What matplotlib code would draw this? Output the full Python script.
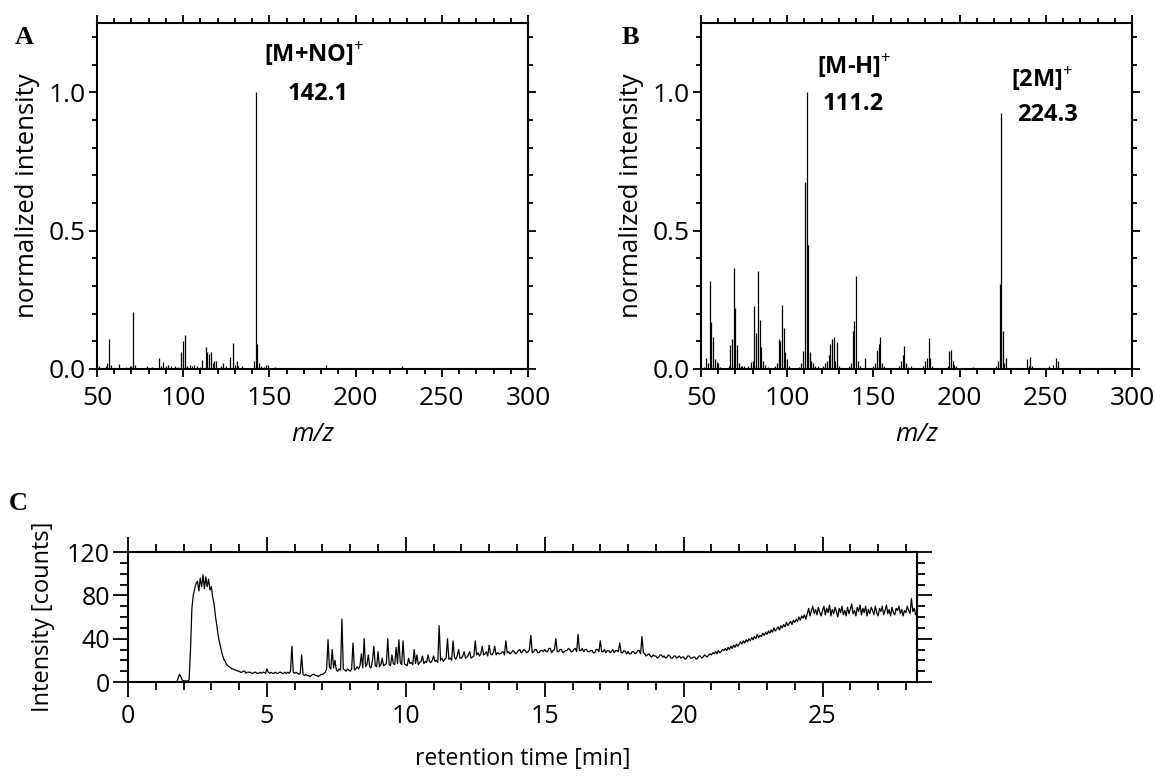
"""
plot.py - mass spectra (A, B) and chromatogram (C), redrawn as one figure.
"""

import numpy as np
import matplotlib
matplotlib.use("Agg")
import matplotlib.pyplot as plt
from matplotlib.ticker import MultipleLocator, FormatStrFormatter


# Data

# Panel A: stick spectrum, m/z and normalized intensity
mz_a = [51, 55, 56, 57, 58, 63, 67, 69, 70, 71,
        72, 79, 82, 86, 87, 88, 90, 91, 93, 95,
        97, 99, 100, 101, 102, 104, 105, 106, 108, 110,
        111, 113, 114, 115, 116, 117, 118, 119, 122, 123,
        125, 127, 129, 130, 131, 132, 134, 141, 142.1, 143,
        144, 145, 147, 148, 149, 153, 157, 183, 227]
int_a = [0.012, 0.010, 0.020, 0.108, 0.015, 0.018, 0.008, 0.012, 0.010, 0.206,
         0.015, 0.012, 0.006, 0.038, 0.010, 0.025, 0.010, 0.015, 0.012, 0.010,
         0.008, 0.062, 0.100, 0.122, 0.012, 0.015, 0.010, 0.015, 0.010, 0.008,
         0.032, 0.078, 0.062, 0.055, 0.060, 0.020, 0.028, 0.030, 0.010, 0.020,
         0.010, 0.043, 0.094, 0.015, 0.030, 0.010, 0.012, 0.028, 1.000, 0.090,
         0.020, 0.010, 0.008, 0.015, 0.015, 0.006, 0.004, 0.015, 0.010]

# Panel B
mz_b = [52, 53, 54, 55, 56, 57, 58, 59, 60, 61,
        66, 67, 68, 69, 70, 71, 72, 73, 74, 75, 77,
        79, 80, 81, 82, 83, 84, 85, 86, 87, 89,
        93, 94, 95, 96, 97, 98, 99, 100, 101,
        107, 108, 109, 110.2, 111.2, 112.2, 113, 114, 115, 116, 118,
        121, 122, 123, 124, 125, 126, 127, 128, 129, 130,
        136, 137, 138, 139, 140, 141, 142, 145,
        150, 151, 152, 153, 154, 155, 156, 158,
        165, 166, 167, 168, 169, 170, 172, 174,
        179, 180, 181, 182, 183, 184, 186,
        193, 194, 195, 196, 197, 198,
        206, 208, 210, 212,
        221, 222, 223.3, 224.3, 225.3, 226, 227, 229,
        239, 240, 241, 242,
        252, 254, 256, 257, 258,
        265, 268, 271, 280, 284]
int_b = [0.008, 0.040, 0.020, 0.317, 0.170, 0.115, 0.035, 0.025, 0.020, 0.008,
         0.010, 0.085, 0.110, 0.365, 0.220, 0.085, 0.020, 0.010, 0.012, 0.010, 0.010,
         0.025, 0.030, 0.229, 0.130, 0.353, 0.178, 0.080, 0.030, 0.015, 0.008,
         0.010, 0.020, 0.108, 0.100, 0.232, 0.148, 0.060, 0.035, 0.010,
         0.008, 0.020, 0.064, 0.677, 1.000, 0.449, 0.060, 0.030, 0.020, 0.010, 0.010,
         0.010, 0.020, 0.030, 0.050, 0.090, 0.110, 0.115, 0.030, 0.096, 0.010,
         0.010, 0.020, 0.136, 0.172, 0.335, 0.030, 0.010, 0.040,
         0.010, 0.020, 0.070, 0.090, 0.114, 0.020, 0.010, 0.005,
         0.010, 0.030, 0.050, 0.084, 0.020, 0.008, 0.010, 0.005,
         0.010, 0.030, 0.040, 0.112, 0.040, 0.010, 0.005,
         0.010, 0.064, 0.070, 0.030, 0.015, 0.010,
         0.005, 0.006, 0.005, 0.005,
         0.010, 0.030, 0.307, 0.924, 0.138, 0.020, 0.040, 0.005,
         0.035, 0.010, 0.045, 0.010,
         0.010, 0.015, 0.040, 0.030, 0.005,
         0.005, 0.005, 0.005, 0.005, 0.005]

# Panel C: chromatogram, one value every 0.05 min from 0.0 to 28.4 min
t_step = 0.05
chrom = [
    0, 0, 0, 0, 0, 0, 0, 0, 0, 0, 0, 0, 0, 0, 0, 0, 0, 0, 0, 0,
    0, 0, 0, 0, 0, 0, 0, 0, 0, 0, 0, 0, 0, 0, 0, 0, 3, 7, 5, 2,
    1, 1, 1, 1, 2, 30, 68, 80, 86, 91, 93, 84, 96, 88, 99, 86, 97, 88, 95, 85,
    88, 78, 72, 60, 52, 42, 36, 30, 25, 21, 19, 16, 15, 14, 13, 12, 12, 11, 11, 10,
    10, 9, 9, 10, 10, 8, 9, 9, 9, 8, 8, 9, 9, 8, 8, 9, 8, 9, 9, 8,
    12, 9, 8, 9, 8, 8, 9, 8, 8, 9, 9, 8, 8, 9, 8, 9, 8, 10, 33, 9,
    8, 9, 8, 7, 8, 25, 7, 6, 7, 6, 6, 5, 6, 7, 7, 6, 6, 5, 6, 7,
    7, 8, 9, 12, 39, 14, 12, 30, 13, 20, 11, 10, 12, 11, 58, 12, 11, 10, 12, 11,
    10, 12, 36, 11, 12, 14, 12, 15, 26, 13, 40, 14, 16, 25, 14, 13, 20, 33, 15, 14,
    28, 14, 16, 22, 15, 16, 17, 40, 16, 15, 25, 17, 16, 32, 17, 39, 18, 16, 38, 17,
    16, 15, 22, 17, 18, 16, 30, 17, 25, 16, 18, 19, 24, 17, 19, 18, 25, 19, 18, 20,
    24, 19, 20, 18, 52, 20, 22, 19, 21, 22, 40, 21, 22, 20, 38, 23, 21, 24, 30, 22,
    22, 24, 28, 22, 23, 25, 28, 22, 23, 24, 38, 25, 27, 24, 26, 33, 25, 26, 28, 24,
    34, 26, 25, 27, 33, 25, 27, 26, 26, 27, 28, 25, 38, 27, 28, 26, 27, 29, 28, 26,
    27, 29, 30, 27, 28, 30, 29, 27, 28, 30, 43, 27, 28, 30, 30, 27, 27, 29, 29, 28,
    30, 28, 28, 31, 31, 27, 29, 30, 40, 28, 28, 30, 30, 27, 28, 29, 29, 31, 30, 28,
    28, 30, 31, 28, 44, 29, 29, 31, 28, 30, 30, 28, 28, 29, 29, 27, 27, 30, 30, 28,
    38, 28, 28, 30, 27, 29, 29, 27, 28, 30, 27, 29, 29, 28, 36, 27, 27, 29, 28, 26,
    28, 26, 26, 28, 28, 26, 27, 29, 29, 26, 42, 27, 26, 24, 25, 26, 24, 23, 25, 24,
    24, 22, 23, 25, 25, 23, 24, 22, 23, 25, 24, 22, 22, 24, 24, 22, 23, 24, 22, 23,
    23, 21, 22, 24, 24, 22, 22, 23, 23, 21, 22, 24, 24, 22, 23, 25, 24, 23, 25, 26,
    25, 27, 26, 28, 26, 29, 27, 28, 30, 29, 31, 29, 32, 30, 33, 31, 34, 32, 35, 33,
    35, 37, 35, 38, 36, 39, 37, 40, 38, 41, 39, 42, 40, 44, 41, 43, 42, 45, 43, 46,
    44, 47, 45, 48, 46, 50, 47, 49, 51, 48, 52, 50, 53, 51, 55, 52, 54, 56, 53, 57,
    55, 58, 56, 60, 57, 61, 59, 62, 58, 63, 68, 61, 66, 70, 63, 67, 62, 69, 64, 61,
    66, 70, 62, 68, 64, 71, 61, 67, 63, 69, 65, 60, 68, 64, 70, 62, 66, 61, 69, 63,
    67, 72, 63, 66, 61, 69, 65, 71, 62, 68, 64, 70, 61, 67, 63, 69, 66, 62, 70, 64,
    61, 68, 65, 70, 62, 66, 71, 63, 67, 61, 69, 64, 62, 68, 66, 70, 63, 67, 61, 66,
    64, 70, 66, 63, 77, 65, 68, 62, 63,
]


# Style

plt.rcParams.update({
    "font.family": ["Open Sans", "DejaVu Sans"],
    "font.size": 19,
    "axes.linewidth": 1.5,
    "mathtext.fontset": "custom",
    "mathtext.rm": "Open Sans",
    "mathtext.bf": "Open Sans:bold",
})

W, H = 1156, 778
fig = plt.figure(figsize=(W / 100, H / 100), dpi=100)


def px_axes(left, top, right, bottom):
    return fig.add_axes([left / W, 1 - bottom / H, (right - left) / W, (bottom - top) / H])


def spectrum(ax, mz, inten):
    ax.vlines(mz, 0, inten, color="black", lw=0.9)
    ax.set_xlim(50, 300)
    ax.set_ylim(0, 1.25)
    ax.xaxis.set_major_locator(MultipleLocator(50))
    ax.xaxis.set_minor_locator(MultipleLocator(10))
    ax.yaxis.set_major_locator(MultipleLocator(0.5))
    ax.yaxis.set_minor_locator(MultipleLocator(0.1))
    ax.yaxis.set_major_formatter(FormatStrFormatter("%.1f"))
    ax.tick_params(which="both", direction="out", top=True, right=True,
                   width=1.3, labelsize=19)
    ax.tick_params(which="major", length=6)
    ax.tick_params(which="minor", length=3.5)
    ax.tick_params(axis="x", pad=6)
    ax.tick_params(axis="y", pad=2)
    ax.set_ylabel("normalized intensity", fontsize=18.5)
    ax.yaxis.set_label_coords(-0.133, 0.5)
    ax.set_xlabel("m/z", fontsize=18.5, style="italic")
    ax.xaxis.set_label_coords(0.5, -0.153)


# A
ax_a = px_axes(97, 23, 528, 369)
spectrum(ax_a, mz_a, int_a)
ax_a.text(176, 1.14, r"[M+NO]$^{+}$", ha="center", va="center",
          fontsize=17, fontweight="bold")
ax_a.text(178, 0.995, "142.1", ha="center", va="center",
          fontsize=17, fontweight="bold")

# B
ax_b = px_axes(701, 23, 1132, 369)
spectrum(ax_b, mz_b, int_b)
ax_b.text(139, 1.095, r"[M-H]$^{+}$", ha="center", va="center",
          fontsize=17, fontweight="bold")
ax_b.text(138, 0.959, "111.2", ha="center", va="center",
          fontsize=17, fontweight="bold")
ax_b.text(248, 1.05, r"[2M]$^{+}$", ha="center", va="center",
          fontsize=17, fontweight="bold")
ax_b.text(251, 0.917, "224.3", ha="center", va="center",
          fontsize=17, fontweight="bold")

# C
time = np.arange(len(chrom)) * t_step
ax_c = px_axes(128, 552, 917, 682)
ax_c.plot(time, chrom, color="black", lw=0.9)
ax_c.set_xlim(0, 28.4)
ax_c.set_ylim(0, 120)
ax_c.xaxis.set_major_locator(MultipleLocator(5))
ax_c.xaxis.set_minor_locator(MultipleLocator(1))
ax_c.yaxis.set_major_locator(MultipleLocator(40))
ax_c.yaxis.set_minor_locator(MultipleLocator(10))
ax_c.tick_params(which="both", direction="out", top=True, right=True,
                 width=1.3, labelsize=18)
ax_c.tick_params(which="major", length=11)
ax_c.tick_params(which="minor", length=5.5)
ax_c.tick_params(axis="x", pad=5)
ax_c.tick_params(axis="y", pad=2)
ax_c.set_ylabel("Intensity [counts]", fontsize=17)
ax_c.yaxis.set_label_coords(-0.0925, 0.5)
ax_c.set_xlabel("retention time [min]", fontsize=16.5)
ax_c.xaxis.set_label_coords(0.5, -0.5)

# panel letters
for letter, x, y in [("A", 24, 38), ("B", 630, 37), ("C", 18, 503)]:
    fig.text(x / W, 1 - y / H, letter, ha="center", va="center",
             fontsize=19, fontweight="bold", family="Liberation Serif")

fig.savefig("out.png", dpi=100)
